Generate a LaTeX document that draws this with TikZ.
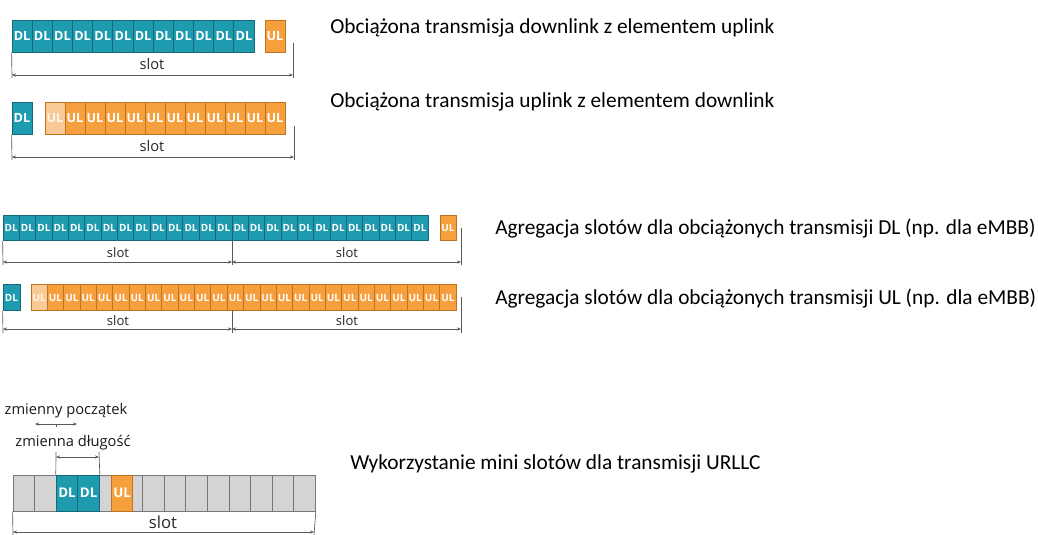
\documentclass[tikz,border=0pt]{standalone}
\usepackage{fontspec}
\setmainfont{Carlito}
\newfontfamily\cellfont{Open Sans}
\usetikzlibrary{arrows.meta}
\definecolor{dlfill}{RGB}{31,155,176}
\definecolor{dldraw}{RGB}{22,105,120}
\definecolor{ulfill}{RGB}{245,160,60}
\definecolor{uldraw}{RGB}{190,115,35}
\definecolor{ullight}{RGB}{249,201,150}
\definecolor{grayfill}{RGB}{212,212,212}
\definecolor{graydraw}{RGB}{120,120,120}
\definecolor{dimcol}{RGB}{90,90,90}
\begin{document}
\begin{tikzpicture}[x=0.75pt,y=-0.75pt,
 cell/.style={draw, line width=0.6pt, inner sep=0pt, text=white, anchor=center},
 dlc/.style={cell, fill=dlfill, draw=dldraw},
 ulc/.style={cell, fill=ulfill, draw=uldraw},
 ullc/.style={cell, fill=ullight, draw=uldraw, text=white!85!ullight},
 grc/.style={cell, fill=grayfill, draw=graydraw},
 sizeA/.style={minimum width=15.1pt, minimum height=24pt, font=\cellfont\bfseries\fontsize{9.5}{10}\selectfont},
 sizeB/.style={minimum width=12.26pt, minimum height=18.75pt, font=\cellfont\bfseries\fontsize{7.5}{8}\selectfont},
 sizeC/.style={minimum width=16.2pt, minimum height=27pt, font=\cellfont\bfseries\fontsize{10}{11}\selectfont},
 dim/.style={draw=dimcol, line width=0.5pt},
 dimarrow/.style={dim, {Stealth[length=3pt,width=2.4pt]}-{Stealth[length=3pt,width=2.4pt]}},
 slotA/.style={font=\cellfont\fontsize{11}{12}\selectfont, text=black!85, inner sep=0pt},
 slotB/.style={font=\cellfont\fontsize{9.8}{10}\selectfont, text=black!85, inner sep=0pt},
 slotC/.style={font=\cellfont\fontsize{12.5}{13}\selectfont, text=black!85, inner sep=0pt},
 small/.style={font=\cellfont\fontsize{11}{12}\selectfont, text=black!90, inner sep=0pt},
 desc/.style={anchor=west, font=\fontsize{16}{18}\selectfont, inner sep=0pt}
]
\useasboundingbox (0,0) rectangle (1038,535);

% ---------- Row 1 ----------
\foreach \i in {1,...,12} \node[dlc,sizeA] (a\i) at ({12+20.17*(\i-0.5)},36) {DL};
\node[ulc,sizeA,minimum width=15pt] (aul) at (275,36) {UL};
\coordinate (al-b) at (12,78);
\coordinate (ar-t) at (293,43);
\coordinate (ar-b) at (293,78);
\coordinate (al) at (12,75);
\coordinate (ar) at (293,75);
\draw[dim] (a1.south west) -- (al-b);
\draw[dim] (ar-t) -- (ar-b);
\draw[dimarrow] (al) -- (ar);
\node[slotA] (aslot) at (152,64) {slot};

% ---------- Row 2 ----------
\node[dlc,sizeA,minimum width=15pt] (bdl) at (22,118) {DL};
\node[ullc,sizeA,minimum width=15pt] (b1) at (55,118) {UL};
\foreach \i in {2,...,12} \node[ulc,sizeA,minimum width=15pt] (b\i) at ({45+20*(\i-0.5)},118) {UL};
\coordinate (bl-b) at (12,160);
\coordinate (br-t) at (294,126);
\coordinate (br-b) at (294,160);
\coordinate (bl) at (12,157);
\coordinate (br) at (294,157);
\draw[dim] (bdl.south west) -- (bl-b);
\draw[dim] (br-t) -- (br-b);
\draw[dimarrow] (bl) -- (br);
\node[slotA] (bslot) at (152,146) {slot};

% ---------- Row 3 ----------
\foreach \i in {1,...,26} \node[dlc,sizeB] (c\i) at ({3+16.35*(\i-0.5)},228) {DL};
\node[ulc,sizeB,minimum width=12pt] (cul) at (448,228) {UL};
\coordinate (cl-b) at (3,265);
\coordinate (cm-t) at (232,240);
\coordinate (cm-b) at (232,265);
\coordinate (cr-t) at (461,228);
\coordinate (cr-b) at (461,265);
\coordinate (cl) at (3,262);
\coordinate (cm) at (232,262);
\coordinate (cr) at (461,262);
\draw[dim] (c1.south west) -- (cl-b);
\draw[dim] (cm-t) -- (cm-b);
\draw[dim] (cr-t) -- (cr-b);
\draw[dimarrow] (cl) -- (cm);
\draw[dimarrow] (cm) -- (cr);
\node[slotB] (cslot1) at (118,253) {slot};
\node[slotB] (cslot2) at (347,253) {slot};

% ---------- Row 4 ----------
\node[dlc,sizeB,minimum width=12.75pt,minimum height=19.5pt] (ddl) at (11.5,297.5) {DL};
\node[ullc,sizeB,minimum height=19.5pt] (d1) at ({31+16.35*0.5},297.5) {UL};
\foreach \i in {2,...,26} \node[ulc,sizeB,minimum height=19.5pt] (d\i) at ({31+16.35*(\i-0.5)},297.5) {UL};
\coordinate (dl-b) at (3,333);
\coordinate (dm-t) at (232,310);
\coordinate (dm-b) at (232,333);
\coordinate (dr-t) at (461,297);
\coordinate (dr-b) at (461,333);
\coordinate (dl) at (3,329);
\coordinate (dm) at (232,329);
\coordinate (dr) at (461,329);
\draw[dim] (ddl.south west) -- (dl-b);
\draw[dim] (dm-t) -- (dm-b);
\draw[dim] (dr-t) -- (dr-b);
\draw[dimarrow] (dl) -- (dm);
\draw[dimarrow] (dm) -- (dr);
\node[slotB] (dslot1) at (118,321) {slot};
\node[slotB] (dslot2) at (347,321) {slot};

% ---------- Row 5 ----------
\foreach \i in {1,...,14} \node[grc,sizeC] (e\i) at ({13+21.6*(\i-0.5)},493) {};
\node[dlc,sizeC] (edl1) at (e3) {DL};
\node[dlc,sizeC] (edl2) at (e4) {DL};
\node[ulc,sizeC,minimum width=15.75pt] (eul) at (122.2,493) {UL};
\coordinate (el-b) at (13,535);
\coordinate (er-b) at (314,535);
\coordinate (el) at (13,532);
\coordinate (er) at (314,532);
\draw[dim] (e1.south west) -- (el-b);
\draw[dim] (e14.south east) -- (er-b);
\draw[dimarrow] (el) -- (er);
\node[slotC] (eslot) at (163,522) {slot};

% variable length bracket
\coordinate (g1) at (56,452);
\coordinate (g2) at (99,452);
\coordinate (g1a) at (56,457);
\coordinate (g2a) at (99,457);
\draw[dim] (edl1.north west) -- (g1);
\draw[dim] (edl2.north east) -- (g2);
\draw[dimarrow] (g1a) -- (g2a);
\node[small] (zdl) at (73,443) {zmienna długość};

% variable start
\coordinate (h1) at (35,424);
\coordinate (h2) at (77,424);
\coordinate (hm1) at (56,424);
\coordinate (hm2) at (56,427);
\draw[dimarrow] (h1) -- (h2);
\draw[dim] (hm1) -- (hm2);
\node[small] (zpo) at (66,411) {zmienny początek};

% ---------- Descriptions ----------
\node[desc] (t1) at (330,28) {Obciążona transmisja downlink z elementem uplink};
\node[desc] (t2) at (330,102) {Obciążona transmisja uplink z elementem downlink};
\node[desc] (t3) at (495,229) {Agregacja slotów dla obciążonych transmisji DL (np. dla eMBB)};
\node[desc] (t4) at (495,299) {Agregacja slotów dla obciążonych transmisji UL (np. dla eMBB)};
\node[desc] (t5) at (350,464) {Wykorzystanie mini slotów dla transmisji URLLC};
\end{tikzpicture}
\end{document}
